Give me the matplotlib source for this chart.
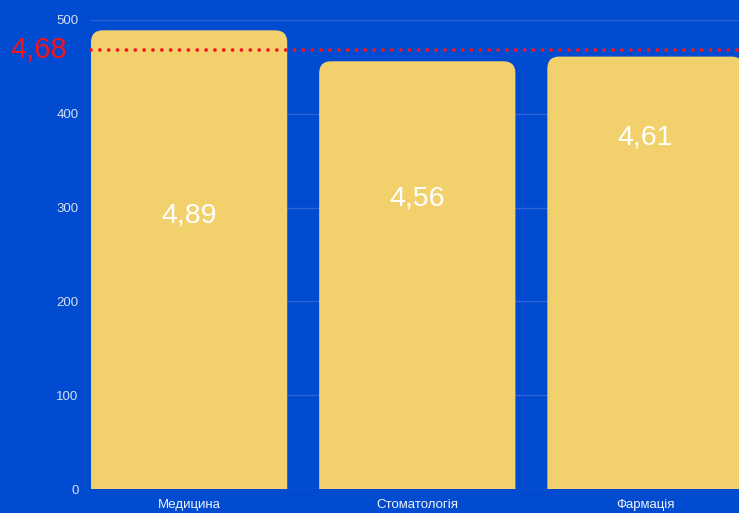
import matplotlib
matplotlib.use("Agg")
import matplotlib.pyplot as plt
from matplotlib.patches import FancyBboxPatch
from matplotlib.transforms import blended_transform_factory

categories = ["Медицина", "Стоматологія", "Фармація"]
values = [489, 456, 461]
value_labels = ["4,89", "4,56", "4,61"]
label_y = [292, 310, 375]
avg_value = 468
avg_label = "4,68"
yticks = [0, 100, 200, 300, 400, 500]

BG = "#004BD0"
BAR = "#F2D06C"
GRID = "#2F63D6"
TICK = "#D6DFF5"
RED = "#F5141E"

plt.rcParams['font.family'] = ['Liberation Sans', 'DejaVu Sans']

W, H = 739, 513
fig = plt.figure(figsize=(W / 100, H / 100), dpi=100, facecolor=BG)
ax = fig.add_axes([91 / W, (H - 489) / H, 1 - 91 / W, (489 - 20) / H])
ax.set_facecolor(BG)

ax.set_xlim(-0.43, 2.41)
ax.set_ylim(0, 500)

bars = ax.bar(range(len(categories)), values, width=0.86, color=BAR, zorder=2)
# replace with rounded-top bars
x_per_px = (2.41 + 0.43) / (W - 91)
y_per_px = 500 / (489 - 20)
aspect = y_per_px / x_per_px
r = 12 * x_per_px
for b in bars:
    x0, w, h = b.get_x(), b.get_width(), b.get_height()
    b.set_visible(False)
    p = FancyBboxPatch((x0, -30), w, h + 30,
                       boxstyle=f"round,pad=0,rounding_size={r}",
                       mutation_aspect=aspect, facecolor=BAR, edgecolor="none",
                       zorder=2)
    ax.add_patch(p)

for i, (lab, ly) in enumerate(zip(value_labels, label_y)):
    ax.text(i, ly, lab, ha="center", va="center", color="white",
            fontsize=20.5, zorder=4)

ax.axhline(avg_value, color=RED, linewidth=2.7,
           linestyle=(0, (0.01, 2.35)), dash_capstyle="round", zorder=3,
           clip_on=False)
tr = blended_transform_factory(fig.transFigure, ax.transData)
fig.text(10 / W, avg_value, avg_label, transform=tr, ha="left", va="center",
         color=RED, fontsize=21)

ax.set_yticks(yticks)
ax.set_yticklabels([str(t) for t in yticks])
ax.set_xticks(range(len(categories)))
ax.set_xticklabels(categories)
ax.tick_params(axis="y", length=0, pad=9, labelsize=9.5, labelcolor=TICK)
ax.tick_params(axis="x", length=0, pad=7, labelsize=9.5, labelcolor="#F0F3FB")
ax.grid(axis="y", color=GRID, linewidth=1, zorder=0)
ax.set_axisbelow(True)
for s in ax.spines.values():
    s.set_visible(False)

fig.savefig("out.png", dpi=100, facecolor=BG)
